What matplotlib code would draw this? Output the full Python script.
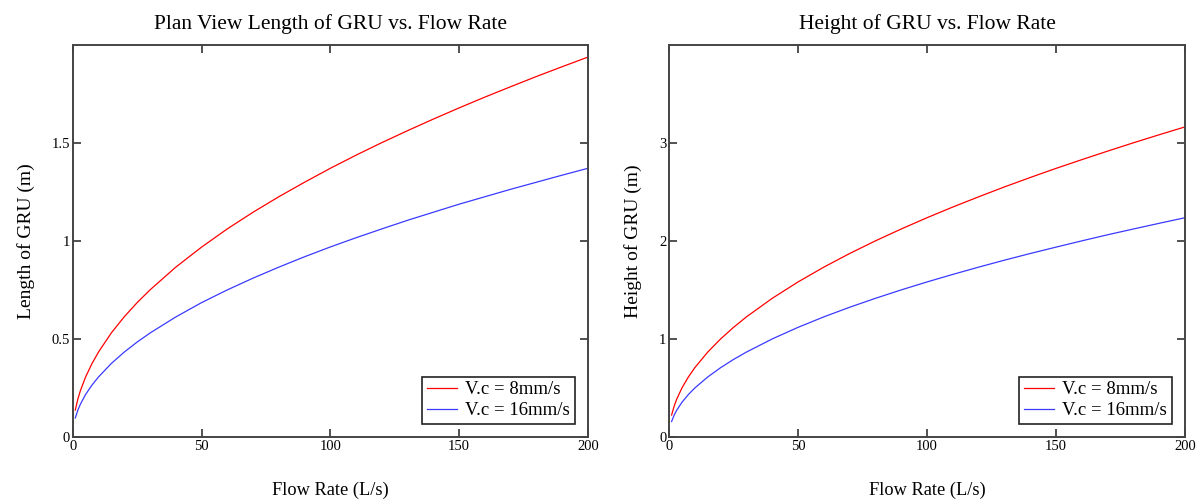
import matplotlib
matplotlib.use("Agg")
import matplotlib.pyplot as plt

plt.rcParams['font.family'] = ['Liberation Serif', 'DejaVu Serif']

flow = [1, 2, 3, 5, 7.5, 10, 15, 20, 25, 30, 40, 50, 60, 70, 80, 90, 100,
        110, 120, 130, 140, 150, 160, 170, 180, 190, 200]

length_8 = [0.137, 0.194, 0.237, 0.306, 0.375, 0.433, 0.531, 0.613, 0.685, 0.750,
            0.866, 0.968, 1.061, 1.146, 1.225, 1.299, 1.370, 1.437, 1.501, 1.562,
            1.621, 1.678, 1.733, 1.786, 1.838, 1.888, 1.937]
length_16 = [0.097, 0.137, 0.168, 0.217, 0.265, 0.306, 0.375, 0.433, 0.484, 0.530,
             0.612, 0.685, 0.750, 0.810, 0.866, 0.919, 0.969, 1.016, 1.061, 1.105,
             1.146, 1.187, 1.225, 1.263, 1.299, 1.335, 1.370]

height_8 = [0.224, 0.316, 0.387, 0.500, 0.612, 0.707, 0.866, 1.000, 1.118, 1.225,
            1.414, 1.581, 1.732, 1.871, 2.000, 2.121, 2.236, 2.345, 2.449, 2.550,
            2.646, 2.739, 2.828, 2.915, 3.000, 3.082, 3.162]
height_16 = [0.158, 0.224, 0.274, 0.354, 0.433, 0.500, 0.612, 0.707, 0.791, 0.866,
             1.000, 1.118, 1.225, 1.323, 1.414, 1.500, 1.581, 1.658, 1.732, 1.803,
             1.871, 1.936, 2.000, 2.062, 2.121, 2.179, 2.236]

labels = ["V.c = 8mm/s", "V.c = 16mm/s"]
x_ticks = [0, 50, 100, 150, 200]
left_yticks = [0, 0.5, 1, 1.5]
left_yticklabels = ["0", "0.5", "1", "1.5"]
right_yticks = [0, 1, 2, 3]
right_yticklabels = ["0", "1", "2", "3"]

fig = plt.figure(figsize=(12.02, 5.0), dpi=100)
ax1 = fig.add_axes([0.0605, 0.126, 0.4287, 0.7846])
ax2 = fig.add_axes([0.5566, 0.126, 0.4293, 0.7846])

panels = [
    (ax1, length_8, length_16, "Plan View Length of GRU vs. Flow Rate",
     "Length of GRU (m)", 2.0, left_yticks, left_yticklabels),
    (ax2, height_8, height_16, "Height of GRU vs. Flow Rate",
     "Height of GRU (m)", 4.0, right_yticks, right_yticklabels),
]

for ax, s8, s16, title, ylabel, ymax, yt, ytl in panels:
    ax.plot(flow, s8, color="#ff0000", lw=0.9, label=labels[0])
    ax.plot(flow, s16, color="#3a3aff", lw=0.9, label=labels[1])
    ax.set_xlim(0, 200)
    ax.set_ylim(0, ymax)
    ax.set_xticks(x_ticks)
    ax.set_xticklabels([str(t) for t in x_ticks])
    ax.set_yticks(yt)
    ax.set_yticklabels(ytl)
    ax.tick_params(direction="in", length=6, width=1.2, color="#333333",
                   top=True, right=True, labelsize=10.5, pad=2)
    for sp in ax.spines.values():
        sp.set_color("#444444")
        sp.set_linewidth(1.4)
    ax.set_title(title, fontsize=15.5, pad=11)
    ax.set_xlabel("Flow Rate (L/s)", fontsize=13.2, labelpad=21)
    ax.set_ylabel(ylabel, fontsize=14, labelpad=12)
    leg = ax.legend(loc="lower right", fontsize=13.5, fancybox=False,
                    framealpha=1, edgecolor="#222222", handlelength=1.6,
                    borderaxespad=0.7, borderpad=0.25, labelspacing=0.2,
                    handletextpad=0.45)
    leg.get_frame().set_linewidth(1.2)

fig.savefig("out.png", dpi=100)
